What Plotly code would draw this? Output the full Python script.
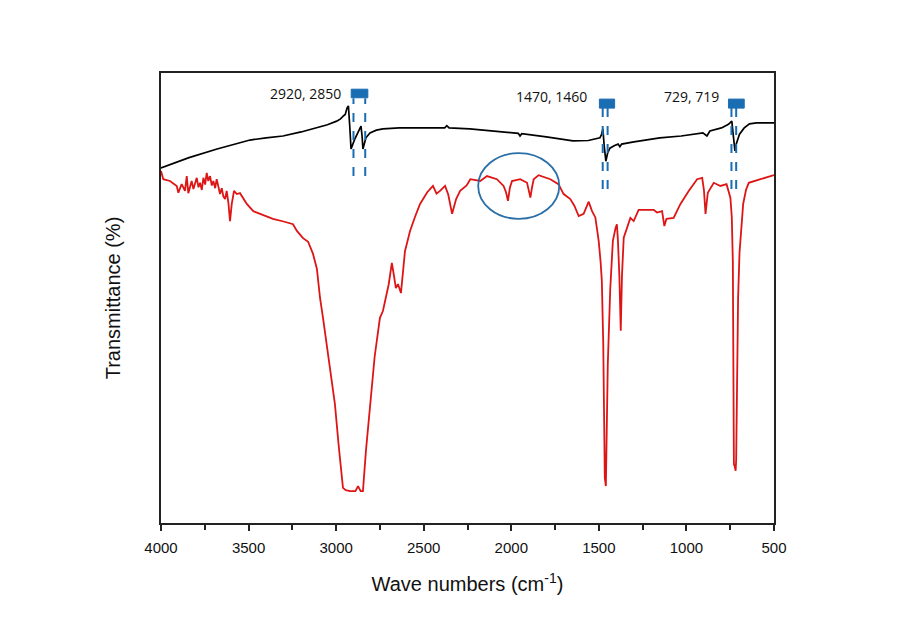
import plotly.graph_objects as go

# ---------------- data (wavenumber cm^-1, transmittance arbitrary %) ----------------
black_wn = [4000, 3840, 3680, 3560, 3492, 3400, 3304, 3200, 3110, 3050, 2997, 2975, 2960, 2948,
            2938, 2930, 2922, 2915, 2895, 2875, 2858, 2852, 2847, 2830, 2807, 2770, 2733, 2640,
            2539, 2420, 2380, 2368, 2355, 2237, 2100, 1960, 1950, 1940, 1800, 1648, 1560, 1494,
            1485, 1477, 1470, 1460, 1450, 1437, 1410, 1390, 1380, 1370, 1300, 1152, 1030, 906,
            883, 866, 800, 760, 741, 732, 723, 715, 697, 670, 640, 600, 505, 500]
black_t = [78.9, 81.2, 83.1, 84.4, 85.1, 85.6, 86.0, 86.9, 87.8, 88.5, 89.3, 89.8, 90.4, 90.8,
           92.2, 92.7, 88.0, 83.1, 85.2, 86.8, 88.2, 86.0, 83.1, 85.6, 86.7, 87.3, 87.6, 87.8,
           87.8, 87.9, 87.8, 88.3, 87.8, 87.6, 87.1, 86.6, 86.0, 86.5, 85.8, 84.9, 85.0, 85.6,
           86.3, 87.6, 84.0, 80.4, 82.2, 83.3, 83.9, 84.2, 83.6, 84.2, 84.7, 85.6, 86.0, 86.7,
           86.0, 87.1, 87.8, 88.6, 89.3, 86.0, 82.7, 84.3, 86.4, 87.8, 88.7, 88.9, 88.9, 88.9]

red_wn = [4000, 3987, 3949, 3910, 3901, 3882, 3863, 3853, 3844, 3825, 3815, 3796, 3786, 3777,
          3767, 3758, 3748, 3739, 3730, 3720, 3710, 3701, 3691, 3682, 3672, 3663, 3653, 3644,
          3634, 3625, 3615, 3606, 3596, 3583, 3567, 3549, 3510, 3473, 3434, 3361, 3300, 3246,
          3224, 3189, 3160, 3132, 3110, 3092, 3075, 3050, 3024, 3007, 2985, 2961, 2945, 2921,
          2890, 2875, 2860, 2847, 2830, 2807, 2780, 2750, 2733, 2700, 2682, 2670, 2659, 2647,
          2630, 2607, 2578, 2550, 2521, 2480, 2447, 2427, 2407, 2378, 2360, 2338, 2315, 2292,
          2255, 2234, 2177, 2139, 2082, 2044, 2030, 2019, 2008, 1996, 1949, 1910, 1900, 1891,
          1882, 1872, 1844, 1810, 1777, 1731, 1701, 1663, 1640, 1615, 1587, 1558, 1539, 1520,
          1501, 1490, 1483, 1475, 1466, 1460, 1455, 1449, 1435, 1420, 1405, 1397, 1391, 1383,
          1375, 1368, 1358, 1320, 1301, 1273, 1187, 1168, 1139, 1126, 1114, 1073, 1034, 987,
          939, 910, 900, 891, 878, 844, 806, 771, 749, 741, 735, 731, 729, 724, 719, 716, 712,
          705, 697, 691, 676, 660, 644, 577, 501, 500]
red_t = [78.2, 76.4, 76.0, 74.9, 73.4, 75.3, 73.8, 77.1, 73.3, 76.0, 74.2, 76.7, 74.6, 75.6,
         74.0, 76.7, 75.2, 77.8, 76.0, 77.1, 75.0, 76.0, 74.4, 76.4, 74.7, 73.1, 74.4, 72.6,
         72.0, 73.8, 71.1, 67.1, 70.9, 73.8, 73.1, 73.3, 70.9, 69.3, 68.7, 67.6, 67.0, 66.4,
         64.9, 63.3, 62.5, 59.8, 56.5, 50.0, 45.6, 38.5, 31.6, 26.4, 17.0, 7.8, 7.3, 7.1,
         7.1, 8.2, 7.1, 7.1, 16.0, 26.4, 37.0, 45.6, 47.1, 53.0, 57.8, 55.0, 52.2, 53.1,
         51.1, 60.4, 64.9, 68.0, 70.9, 73.5, 74.9, 73.2, 73.8, 74.9, 73.0, 68.7, 72.0, 73.8,
         75.0, 76.4, 76.0, 77.1, 76.4, 74.9, 73.5, 71.6, 74.5, 76.0, 76.4, 75.6, 74.0, 72.3,
         74.5, 76.4, 77.3, 76.8, 76.4, 75.3, 73.1, 72.0, 70.5, 68.2, 68.7, 71.4, 69.3, 67.9,
         62.7, 58.0, 53.8, 40.0, 10.0, 8.2, 20.0, 35.3, 52.0, 62.7, 65.5, 66.4, 62.7, 55.0,
         42.7, 55.0, 63.4, 67.8, 67.1, 69.6, 69.6, 69.0, 69.3, 66.0, 67.6, 67.8, 70.9, 73.8,
         76.4, 76.7, 74.0, 68.7, 73.4, 75.6, 74.9, 75.3, 72.3, 68.0, 58.0, 30.0, 13.1, 12.5,
         11.6, 14.0, 30.0, 50.0, 60.0, 62.7, 70.9, 74.0, 75.6, 76.4, 77.3, 77.3]

# peak marker positions (visual) and labels
marker_pairs = [(2901, 2834), (1478, 1450), (743, 716)]
marker_rects = [(2914, 2819, 94.5, 96.4), (1497, 1410, 92.2, 94.2), (760, 670, 92.2, 94.2)]
marker_line_y = [(77.1, 94.4), (74.2, 92.2), (74.2, 92.2)]
marker_labels = ["2920, 2850", "1470, 1460", "729, 719"]
label_pos = [(3177, 95.4), (1769, 94.7), (971, 94.7)]

# ellipse around the overtone region
ellipse_x = (2189, 1726)
ellipse_y = (67.6, 82.2)

x_ticks = [4000, 3500, 3000, 2500, 2000, 1500, 1000, 500]

BLUE = "#1b6db3"

fig = go.Figure()
fig.add_trace(go.Scatter(x=black_wn, y=black_t, mode="lines",
                         line=dict(color="black", width=1.7), showlegend=False))
fig.add_trace(go.Scatter(x=red_wn, y=red_t, mode="lines",
                         line=dict(color="#dd1515", width=1.8), showlegend=False))

for (x1, x2), (y0, y1), (rx0, rx1, ry0, ry1) in zip(marker_pairs, marker_line_y, marker_rects):
    for xv in (x1, x2):
        fig.add_shape(type="line", x0=xv, x1=xv, y0=y0, y1=y1, xref="x", yref="y",
                      line=dict(color=BLUE, width=2, dash="dash"))
    fig.add_shape(type="rect", x0=rx0, x1=rx1, y0=ry0, y1=ry1, xref="x", yref="y",
                  fillcolor=BLUE, line=dict(color=BLUE, width=1))

for txt, (lx, ly) in zip(marker_labels, label_pos):
    fig.add_annotation(x=lx, y=ly, text=txt, showarrow=False, xref="x", yref="y",
                       font=dict(family="Open Sans, Arial", size=14, color="#111"))

fig.add_shape(type="circle", x0=ellipse_x[0], x1=ellipse_x[1], y0=ellipse_y[0], y1=ellipse_y[1],
              xref="x", yref="y", line=dict(color="#2a6fa8", width=1.8))

fig.update_layout(
    width=900, height=627,
    margin=dict(l=153, r=134, t=65, b=112),
    paper_bgcolor="white", plot_bgcolor="white",
    font=dict(family="Arial, Liberation Sans", color="#111"),
    xaxis=dict(range=[4000, 500], tickvals=x_ticks, ticktext=[str(v) for v in x_ticks],
               ticks="outside", ticklen=6, tickwidth=1.5, tickcolor="#222",
               ticklabelstandoff=4,
               showline=True, linecolor="#222", linewidth=2, mirror=True,
               showgrid=False, zeroline=False,
               tickfont=dict(size=15, family="Arial, Liberation Sans"),
               minor=dict(dtick=250, tick0=500, ticks="outside", ticklen=5, tickwidth=1.5,
                          tickcolor="#222", showgrid=False),
               title=dict(text="Wave numbers (cm<sup>-1</sup>)",
                          font=dict(size=20, family="Arial, Liberation Sans"), standoff=22)),
    yaxis=dict(range=[0, 100], showticklabels=False, ticks="",
               showline=True, linecolor="#222", linewidth=2, mirror=True,
               showgrid=False, zeroline=False,
               title=dict(text="Transmittance (%)",
                          font=dict(size=20, family="Arial, Liberation Sans"), standoff=33)),
)

fig.write_html("out.html")
